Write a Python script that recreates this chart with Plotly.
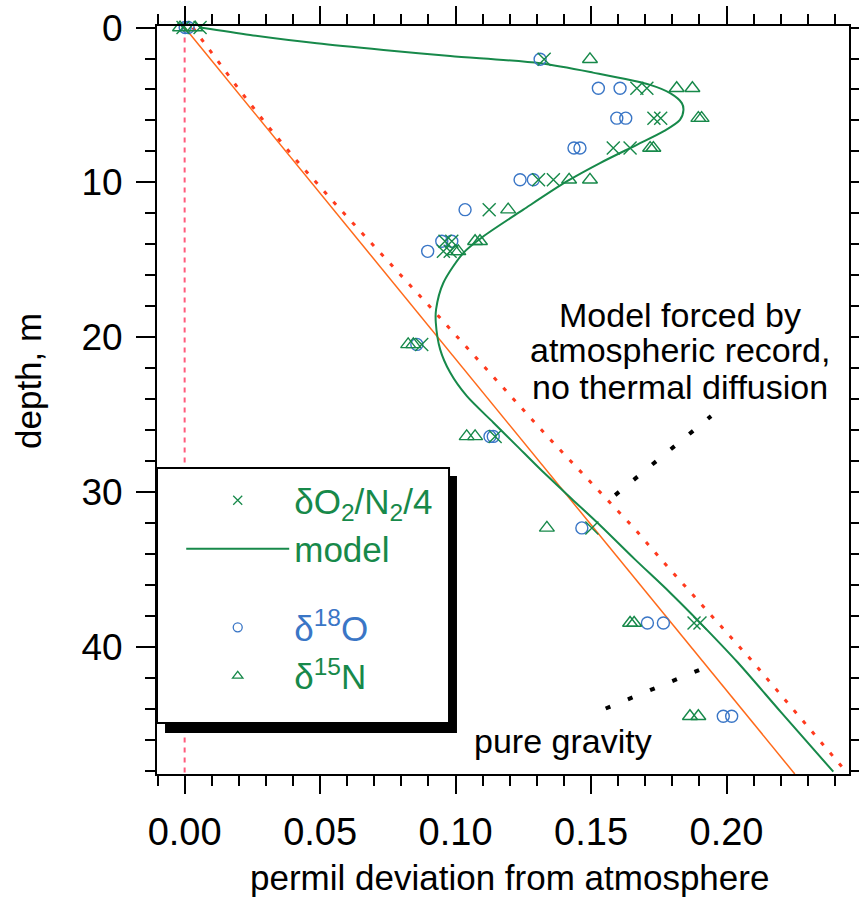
import plotly.graph_objects as go

# ---------------- data ----------------
o2n2_depth = [0, 0, 2.05, 3.92, 3.92, 5.85, 5.85, 7.78, 7.78, 9.83, 9.83, 11.76,
              13.8, 13.8, 14.45, 14.45, 20.46, 26.4, 32.31, 38.45, 38.45]
o2n2_value = [-0.0006, 0.0057, 0.1327, 0.1669, 0.1706, 0.1732, 0.1757, 0.1582, 0.1644,
              0.1306, 0.1361, 0.1124, 0.0961, 0.0986, 0.0955, 0.0980, 0.0875, 0.1146,
              0.1503, 0.1880, 0.1902]

d18o_depth = [0, 0, 2.05, 3.92, 3.92, 5.85, 5.85, 7.78, 7.78, 9.83, 9.83, 11.76,
              13.8, 13.8, 14.45, 20.46, 26.4, 26.4, 32.31, 38.45, 38.45, 44.47, 44.47]
d18o_value = [0.0002, 0.0013, 0.1312, 0.1527, 0.1607, 0.1595, 0.1628, 0.1437, 0.1459,
              0.1238, 0.1287, 0.1035, 0.0949, 0.0986, 0.0897, 0.0857, 0.1127, 0.1139,
              0.1466, 0.1708, 0.1767, 0.1988, 0.2019]

d15n_depth = [0, 0, 2.05, 3.92, 3.92, 5.85, 5.85, 7.78, 7.78, 9.83, 9.83, 11.76,
              13.8, 13.8, 14.45, 14.45, 20.46, 20.46, 26.4, 26.4, 32.31, 38.45, 38.45,
              44.47, 44.47]
d15n_value = [-0.0017, 0.0039, 0.1496, 0.1816, 0.1874, 0.1896, 0.1908, 0.1718, 0.1730,
              0.1419, 0.1496, 0.1194, 0.1072, 0.1090, 0.0998, 0.1010, 0.0825, 0.0844,
              0.1041, 0.1072, 0.1337, 0.1644, 0.1659, 0.1865, 0.1896]

model_depth = [0, 0.48, 1.02, 1.45, 1.84, 2.31, 2.91, 3.70, 4.24, 4.88, 5.32, 5.96,
               6.71, 7.57, 8.75, 9.94, 11.76, 13.48, 14.55, 16.48, 18.2, 19.06, 20.78,
               22.28, 23.79, 25.5, 27.01, 28.51, 30.44, 32.17, 34.31, 36.46, 38.39,
               40.97, 44.19, 48.05]
model_value = [0.0057, 0.0242, 0.0488, 0.0734, 0.098, 0.1312, 0.1507, 0.1718, 0.1792,
               0.1835, 0.1841, 0.1828, 0.1767, 0.1669, 0.1533, 0.1410, 0.1250, 0.1103,
               0.1029, 0.0955, 0.0928, 0.0927, 0.0943, 0.0980, 0.1041, 0.1139, 0.1226,
               0.1312, 0.1429, 0.1535, 0.1660, 0.1790, 0.1900, 0.2040, 0.2200, 0.2394]

nothermal_depth = [0, 0.91, 2.56, 4.09, 6.28, 8.60, 11.58, 18.52, 26.37, 32.27,
                   34.63, 40.75, 47.84, 48.2]
nothermal_value = [0.003, 0.0069, 0.0137, 0.0205, 0.0303, 0.0414, 0.0566, 0.0931,
                   0.1337, 0.1656, 0.1773, 0.2087, 0.2431, 0.2450]

gravity_depth = [0, 48.2]
gravity_value = [0, 0.2252]

zero_depth = [0, 48.2]
zero_value = [0, 0]

x_tickvals = [0, 0.05, 0.10, 0.15, 0.20]
x_ticktext = ["0.00", "0.05", "0.10", "0.15", "0.20"]
y_tickvals = [0, 10, 20, 30, 40]
y_ticktext = ["0", "10", "20", "30", "40"]

# ---------------- styles ----------------
GREEN = "#17894A"
BLUE = "#3A76C6"
RED = "#FF3A1E"
ORANGE = "#FF6A1A"
PINK = "#FF5C7C"
FONT = "Liberation Sans, Arial, Helvetica, sans-serif"

fig = go.Figure()

fig.add_trace(go.Scatter(x=zero_value, y=zero_depth, mode="lines", showlegend=False,
                         line=dict(color=PINK, width=2, dash="5px,5px")))
fig.add_trace(go.Scatter(x=gravity_value, y=gravity_depth, mode="lines", showlegend=False,
                         line=dict(color=ORANGE, width=1.5)))
fig.add_trace(go.Scatter(x=nothermal_value, y=nothermal_depth, mode="lines", showlegend=False,
                         line=dict(color=RED, width=3, dash="4px,10px")))
fig.add_trace(go.Scatter(x=model_value, y=model_depth, mode="lines", showlegend=False,
                         line=dict(color=GREEN, width=2, shape="spline", smoothing=0.8)))

mk_line = 1.4
fig.add_trace(go.Scatter(x=d18o_value, y=d18o_depth, mode="markers", showlegend=False,
                         cliponaxis=False,
                         marker=dict(symbol="circle-open", size=12, color=BLUE,
                                     line=dict(width=mk_line, color=BLUE))))
fig.add_trace(go.Scatter(x=d15n_value, y=d15n_depth, mode="markers", showlegend=False,
                         cliponaxis=False,
                         marker=dict(symbol="triangle-up-open", size=13, color=GREEN,
                                     line=dict(width=mk_line, color=GREEN))))
fig.add_trace(go.Scatter(x=o2n2_value, y=o2n2_depth, mode="markers", showlegend=False,
                         cliponaxis=False,
                         marker=dict(symbol="x-thin-open", size=13, color=GREEN,
                                     line=dict(width=mk_line, color=GREEN))))

# legend proxies (no coordinates)
fig.add_trace(go.Scatter(x=[None], y=[None], mode="markers", legendgroup="g1",
                         name=f"<span style='color:{GREEN}'>δO<sub>2</sub>/N<sub>2</sub>/4</span>",
                         marker=dict(symbol="x-thin-open", size=9, color=GREEN,
                                     line=dict(width=1.3, color=GREEN))))
fig.add_trace(go.Scatter(x=[None], y=[None], mode="lines", legendgroup="g1",
                         name=f"<span style='color:{GREEN}'>model</span>",
                         line=dict(color=GREEN, width=2)))
fig.add_trace(go.Scatter(x=[None], y=[None], mode="markers", legendgroup="g2",
                         name=f"<span style='color:{BLUE}'>δ<sup>18</sup>O</span>",
                         marker=dict(symbol="circle-open", size=9, color=BLUE,
                                     line=dict(width=1.3, color=BLUE))))
fig.add_trace(go.Scatter(x=[None], y=[None], mode="markers", legendgroup="g2",
                         name=f"<span style='color:{GREEN}'>δ<sup>15</sup>N</span>",
                         marker=dict(symbol="triangle-up-open", size=9, color=GREEN,
                                     line=dict(width=1.3, color=GREEN))))

axis_common = dict(showline=True, linewidth=2, linecolor="black", mirror="allticks",
                   showgrid=False, zeroline=False, ticks="outside", tickcolor="black",
                   tickwidth=1.5, automargin=False)

fig.update_xaxes(range=[-0.0102, 0.2452], tickmode="array", tickvals=x_tickvals,
                 ticktext=x_ticktext, ticklen=18, ticklabelstandoff=5,
                 tickfont=dict(size=38, family=FONT, color="black"),
                 minor=dict(dtick=0.01, tick0=0, ticklen=10, tickwidth=1.5,
                            ticks="outside", tickcolor="black"),
                 **axis_common)
fig.update_yaxes(range=[48.2, -0.1], tickmode="array", tickvals=y_tickvals,
                 ticktext=y_ticktext, ticklen=19, ticklabelstandoff=6,
                 tickfont=dict(size=37, family=FONT, color="black"),
                 minor=dict(dtick=2, tick0=0, ticklen=10, tickwidth=1.5,
                            ticks="outside", tickcolor="black"),
                 **axis_common)

# legend box with drop shadow (paper coords)
shapes = [
    dict(type="rect", xref="paper", yref="paper", x0=0.0116, x1=0.4335, y0=0.0548, y1=0.3984,
         fillcolor="black", line=dict(color="black", width=0), layer="above"),
    dict(type="rect", xref="paper", yref="paper", x0=0.0, x1=0.422, y0=0.0682, y1=0.4091,
         fillcolor="white", line=dict(color="black", width=2), layer="above"),
]
# dotted leader lines (decorative, data units)
leaders = [((0.1589, 30.19), (0.1943, 25.09)), ((0.1554, 43.97), (0.1908, 41.42))]
for (xa, ya), (xb, yb) in leaders:
    shapes.append(dict(type="line", xref="x", yref="y", x0=xa, y0=ya, x1=xb, y1=yb,
                       line=dict(color="black", width=4, dash="5px,19px")))

annotations = [
    dict(text="Model forced by", x=0.7558, y=0.6136),
    dict(text="atmospheric record,", x=0.7558, y=0.5668),
    dict(text="no thermal diffusion", x=0.7558, y=0.5179),
    dict(text="pure gravity", x=0.5867, y=0.0441),
]
ann = []
for a in annotations:
    ann.append(dict(text=a["text"], x=a["x"], y=a["y"], xref="paper", yref="paper",
                    xanchor="center", yanchor="middle", showarrow=False,
                    font=dict(size=34, family=FONT, color="black")))
ann.append(dict(text="permil deviation from atmosphere", x=0.5087, y=-0.1384,
                xref="paper", yref="paper", xanchor="center", yanchor="middle",
                showarrow=False, font=dict(size=35, family=FONT, color="black")))
ann.append(dict(text="depth, m", x=-0.1864, y=0.5254, xref="paper", yref="paper",
                xanchor="center", yanchor="middle", textangle=-90, showarrow=False,
                font=dict(size=35, family=FONT, color="black")))

fig.update_layout(
    width=859, height=903, autosize=False,
    margin=dict(l=157, r=10, t=26, b=129),
    paper_bgcolor="white", plot_bgcolor="white",
    font=dict(family=FONT, color="black"),
    showlegend=True,
    legend=dict(x=0.035, y=0.405, xanchor="left", yanchor="top",
                bgcolor="rgba(0,0,0,0)", borderwidth=0,
                font=dict(size=35, family=FONT),
                itemwidth=103, tracegroupgap=30, traceorder="grouped"),
    shapes=shapes, annotations=ann,
)

fig.write_html("out.html")
